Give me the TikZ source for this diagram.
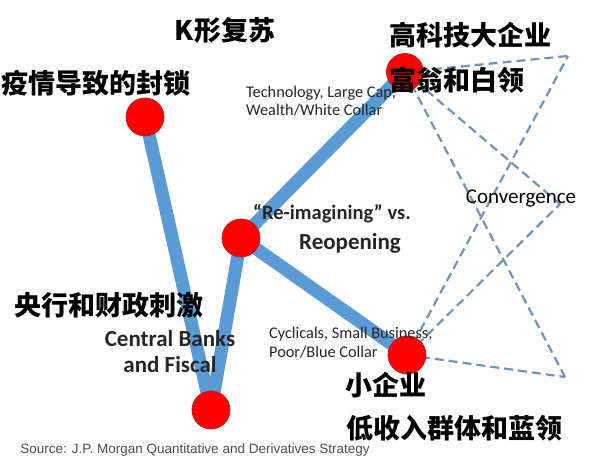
\documentclass[tikz,border=0pt]{standalone}
\usepackage{fontspec}
\setmainfont{Carlito}
\newfontfamily\cjk{Noto Sans CJK SC}
\newfontfamily\arialf{Liberation Sans}
\definecolor{lineblue}{RGB}{91,155,213}
\definecolor{dashblue}{RGB}{110,148,185}
\definecolor{darkred}{RGB}{185,30,40}
\definecolor{labelgray}{RGB}{38,38,38}
\definecolor{srcgray}{RGB}{75,75,75}
\begin{document}
\begin{tikzpicture}[x=1pt,y=-1pt,
  thickline/.style={line width=13pt, color=lineblue},
  dashline/.style={dash pattern=on 9pt off 5pt, line width=2.2pt, color=dashblue},
  dot/.style={circle, fill=red, draw=darkred, line width=0.8pt, minimum size=38pt, inner sep=0pt},
  zh/.style={font=\cjk\bfseries\fontsize{27}{30}\selectfont, text=black, inner sep=0pt},
  enbold/.style={font=\bfseries\fontsize{23}{26}\selectfont, text=labelgray, inner sep=0pt},
  ensmall/.style={font=\fontsize{16.3}{18.5}\selectfont, text=labelgray, inner sep=0pt, align=left, anchor=west},
]
\useasboundingbox (0,0) rectangle (599,462);
\fill[white] (0,0) rectangle (599,462);

% points
\coordinate (A) at (145,117);
\coordinate (B) at (211,410);
\coordinate (C) at (241,238);
\coordinate (D) at (405,72);
\coordinate (E) at (407,355);
\coordinate (P1) at (568,56);
\coordinate (P2) at (565,377);
\coordinate (P3) at (560,204);

% dashed convergence lines
\draw[dashline] (D) -- (P1);
\draw[dashline] (D) -- (P3);
\draw[dashline] (D) -- (P2);
\draw[dashline] (E) -- (P1);
\draw[dashline] (E) -- (P3);
\draw[dashline] (E) -- (P2);

% thick K lines
\draw[thickline] (A) -- (B);
\draw[thickline] (B) -- (C);
\draw[thickline] (C) -- (D);
\draw[thickline] (C) -- (E);

% circles
\node[dot] (nA) at (A) {};
\node[dot] (nB) at (B) {};
\node[dot] (nC) at (C) {};
\node[dot, minimum size=37pt] (nD) at (D) {};
\node[dot] (nE) at (E) {};

% English labels
\node[ensmall] (tech) at (246,101) {Technology, Large Cap,\\Wealth/White Collar};
\node[ensmall] (cyc) at (269,342.5) {Cyclicals, Small Business,\\Poor/Blue Collar};
\node[enbold, font=\bfseries\fontsize{20.5}{24}\selectfont] (reim) at (332,214) {“Re-imagining” vs.};
\node[enbold] (reop) at (350,243) {Reopening};
\node[font=\fontsize{21}{23}\selectfont, text=black, inner sep=0pt] (conv) at (521,198) {Convergence};
\node[enbold] (cb) at (170,339) {Central Banks};
\node[enbold] (af) at (170,365) {and Fiscal};
\node[font=\arialf\fontsize{13.5}{15}\selectfont, text=srcgray, inner sep=0pt] (src) at (195,450) {Source: J.P. Morgan Quantitative and Derivatives Strategy};

% Chinese labels
\node[zh] (title) at (225,30) {K形复苏};
\node[zh] (lock) at (96,83) {疫情导致的封锁};
\node[zh] (tech1) at (470,35) {高科技大企业};
\node[zh] (tech2) at (457,80) {富翁和白领};
\node[zh] (cbzh) at (109,305) {央行和财政刺激};
\node[zh] (small1) at (386,385) {小企业};
\node[zh] (small2) at (454,428) {低收入群体和蓝领};
\end{tikzpicture}
\end{document}
